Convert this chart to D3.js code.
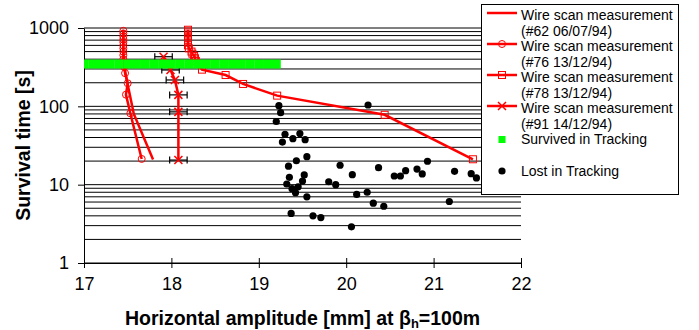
<!DOCTYPE html>
<html>
<head>
<meta charset="utf-8">
<script src="https://cdn.jsdelivr.net/npm/d3@7"></script>
<style>
  body { margin: 0; background: #fff; }
  svg { font-family: "Liberation Sans", Arial, sans-serif; }
</style>
</head>
<body>
<svg id="chart" width="699" height="330"></svg>
<script>
// axis ticks
var xTicks = [17, 18, 19, 20, 21, 22];
var yTicks = [1, 10, 100, 1000];

// wire scan #62 06/07/94 (line only)
var scan62 = [[17.45, 950], [17.45, 700], [17.45, 500], [17.46, 350], [17.47, 280], [17.50, 190], [17.57, 80], [17.79, 21]];
// wire scan #76 13/12/94 (circles)
var scan76 = [[17.45, 920], [17.45, 850], [17.45, 780], [17.45, 720], [17.45, 660], [17.45, 600], [17.45, 550],
  [17.45, 500], [17.45, 450], [17.45, 400], [17.46, 360], [17.46, 320], [17.47, 265], [17.50, 197],
  [17.48, 141], [17.53, 81.5], [17.66, 21.3]];
// wire scan #78 13/12/94 (squares)
var scan78 = [[18.19, 950], [18.19, 900], [18.19, 850], [18.19, 800], [18.19, 750], [18.19, 700], [18.19, 650],
  [18.19, 600], [18.2, 550], [18.23, 500], [18.24, 470], [18.26, 440], [18.27, 410], [18.28, 380],
  [18.35, 294], [18.62, 251], [18.82, 193], [19.21, 137], [20.44, 78], [21.45, 21.1]];
// wire scan #91 14/12/94 (crosses with horizontal error)
var scan91 = [[17.91, 430], [17.99, 291], [18.04, 217], [18.08, 140], [18.08, 85], [18.08, 20.6]];
var scan91Err = [0.1, 0.1, 0.1, 0.1, 0.1, 0.1];

// tracking
var survivedX = [17.0, 17.1, 17.2, 17.3, 17.4, 17.5, 17.6, 17.7, 17.8, 17.9, 18.0, 18.1, 18.2, 18.3,
  18.4, 18.5, 18.6, 18.7, 18.8, 18.9, 19.0, 19.1, 19.2];
var survivedTime = 347;
var lost = [[19.23, 102], [19.25, 83], [19.20, 64], [20.25, 104], [19.30, 44], [19.27, 35], [19.39, 38.6],
  [19.47, 45], [19.53, 37.5], [19.43, 20.2], [19.55, 22.8], [19.34, 17.2], [19.93, 17.7], [20.07, 13.4],
  [20.37, 16.5], [20.93, 19.9], [19.35, 12.4], [19.52, 13.3], [19.50, 11.1], [19.32, 10.2], [19.38, 8.9],
  [19.45, 9.4], [19.42, 7.9], [19.55, 7.0], [19.80, 10.9], [19.88, 10.0], [20.12, 7.5], [20.24, 8.0],
  [20.31, 5.8], [20.43, 5.3], [20.55, 12.9], [20.62, 12.9], [20.68, 15.1], [20.81, 15.8], [20.87, 13.7],
  [21.24, 14.8], [21.43, 13.8], [21.49, 12.2], [21.18, 6.1], [19.37, 4.3], [19.62, 4.0], [19.71, 3.8],
  [20.06, 2.9]];

var legendLabels = [
  ["Wire scan measurement", "(#62 06/07/94)"],
  ["Wire scan measurement", "(#76 13/12/94)"],
  ["Wire scan measurement", "(#78 13/12/94)"],
  ["Wire scan measurement", "(#91 14/12/94)"],
  ["Survived in Tracking"],
  ["Lost in Tracking"]
];

var svg = d3.select("#chart");
var pLeft = 84, pRight = 521, pTop = 28, pBottom = 263;
var red = "#ff0000";

var x = d3.scaleLinear().domain([17, 22]).range([pLeft, pRight]);
var y = d3.scaleLog().domain([1, 1000]).range([pBottom, pTop]);

svg.append("defs").append("clipPath").attr("id", "plotclip")
  .append("rect").attr("x", pLeft).attr("y", pTop - 10).attr("width", pRight - pLeft).attr("height", pBottom - pTop + 10);

// horizontal gridlines (major + minor)
svg.append("g").selectAll("line")
  .data(y.ticks())
  .enter().append("line")
  .attr("x1", pLeft).attr("x2", pRight)
  .attr("y1", d => y(d)).attr("y2", d => y(d))
  .attr("stroke", "#000").attr("stroke-width", 1);

// axes
var yAxis = svg.append("g").attr("transform", "translate(" + pLeft + ",0)")
  .call(d3.axisLeft(y).tickValues(yTicks).tickSize(6).tickSizeOuter(0).tickFormat(d3.format("d")));
yAxis.attr("font-family", null).attr("font-size", 18);
yAxis.selectAll("text").attr("x", -15).attr("fill", "#000");
yAxis.selectAll("line, path").attr("stroke", "#000");

var xAxis = svg.append("g").attr("transform", "translate(0," + pBottom + ")")
  .call(d3.axisBottom(x).tickValues(xTicks).tickSize(5).tickSizeOuter(0).tickFormat(d3.format("d")));
xAxis.attr("font-family", null).attr("font-size", 18);
xAxis.selectAll(".tick line").attr("y1", -5);
xAxis.selectAll("text").attr("y", 14).attr("fill", "#000");
xAxis.selectAll("line, path").attr("stroke", "#000");

// axis titles
var xTitle = svg.append("text")
  .attr("x", (pLeft + pRight) / 2).attr("y", 325)
  .attr("text-anchor", "middle").attr("font-size", 19.5).attr("font-weight", "bold");
xTitle.append("tspan").text("Horizontal amplitude [mm] at \u03b2");
xTitle.append("tspan").attr("font-size", 13).attr("dy", 3).text("h");
xTitle.append("tspan").attr("dy", -3).text("=100m");

svg.append("text")
  .attr("transform", "translate(30," + ((pTop + pBottom) / 2) + ") rotate(-90)")
  .attr("text-anchor", "middle").attr("font-size", 19.5).attr("font-weight", "bold")
  .text("Survival time [s]");

var plot = svg.append("g").attr("clip-path", "url(#plotclip)");
var line = d3.line().x(d => x(d[0])).y(d => y(d[1]));

// #62
plot.append("path").datum(scan62).attr("d", line)
  .attr("fill", "none").attr("stroke", red).attr("stroke-width", 2.5);

// #76
plot.append("path").datum(scan76).attr("d", line)
  .attr("fill", "none").attr("stroke", red).attr("stroke-width", 2.5);
plot.append("g").selectAll("circle").data(scan76).enter().append("circle")
  .attr("cx", d => x(d[0])).attr("cy", d => y(d[1])).attr("r", 3.5)
  .attr("fill", "none").attr("stroke", red).attr("stroke-width", 1);

// #78
plot.append("path").datum(scan78).attr("d", line)
  .attr("fill", "none").attr("stroke", red).attr("stroke-width", 2.5);
plot.append("g").selectAll("rect").data(scan78).enter().append("rect")
  .attr("x", d => x(d[0]) - 3.5).attr("y", d => y(d[1]) - 3.5).attr("width", 7).attr("height", 7)
  .attr("fill", "none").attr("stroke", red).attr("stroke-width", 1);

// #91 error bars then line and crosses
var err = plot.append("g").attr("stroke", "#000").attr("stroke-width", 1.2);
scan91.forEach(function (d, i) {
  var x0 = x(d[0] - scan91Err[i]), x1 = x(d[0] + scan91Err[i]), cy = y(d[1]);
  err.append("line").attr("x1", x0).attr("x2", x1).attr("y1", cy).attr("y2", cy);
  err.append("line").attr("x1", x0).attr("x2", x0).attr("y1", cy - 3.5).attr("y2", cy + 3.5);
  err.append("line").attr("x1", x1).attr("x2", x1).attr("y1", cy - 3.5).attr("y2", cy + 3.5);
});
plot.append("path").datum(scan91).attr("d", line)
  .attr("fill", "none").attr("stroke", red).attr("stroke-width", 2.5);
plot.append("g").selectAll("path").data(scan91).enter().append("path")
  .attr("d", d => {
    var cx = x(d[0]), cy = y(d[1]);
    return "M" + (cx - 4) + "," + (cy - 4) + "L" + (cx + 4) + "," + (cy + 4) +
      "M" + (cx - 4) + "," + (cy + 4) + "L" + (cx + 4) + "," + (cy - 4);
  })
  .attr("stroke", red).attr("stroke-width", 1.5);

// survived in tracking
plot.append("g").selectAll("rect").data(survivedX).enter().append("rect")
  .attr("x", d => x(d) - 4.5).attr("y", y(survivedTime) - 4.5).attr("width", 9).attr("height", 9)
  .attr("fill", "#00ff00");

// lost in tracking
plot.append("g").selectAll("circle").data(lost).enter().append("circle")
  .attr("cx", d => x(d[0])).attr("cy", d => y(d[1])).attr("r", 3.6)
  .attr("fill", "#000");

// legend
var lg = svg.append("g");
lg.append("rect").attr("x", 481.5).attr("y", 4.5).attr("width", 197).attr("height", 190)
  .attr("fill", "#fff").attr("stroke", "#000").attr("stroke-width", 1);
var rowY = [15, 46, 77, 108, 139, 171];
legendLabels.forEach(function (lab, i) {
  var cy = rowY[i];
  lab.forEach(function (t, j) {
    lg.append("text").attr("x", 521).attr("y", cy + j * 15.5 + 5).attr("font-size", 14).text(t);
  });
  if (i < 4) {
    lg.append("line").attr("x1", 487).attr("x2", 517).attr("y1", cy - 2).attr("y2", cy - 2)
      .attr("stroke", red).attr("stroke-width", 2.5);
  }
  var mx = 502, my = cy - 2;
  if (i === 1) lg.append("circle").attr("cx", mx).attr("cy", my).attr("r", 3.5)
    .attr("fill", "none").attr("stroke", red);
  if (i === 2) lg.append("rect").attr("x", mx - 3.5).attr("y", my - 3.5).attr("width", 7).attr("height", 7)
    .attr("fill", "none").attr("stroke", red);
  if (i === 3) lg.append("path")
    .attr("d", "M" + (mx - 4) + "," + (my - 4) + "L" + (mx + 4) + "," + (my + 4) + "M" + (mx - 4) + "," + (my + 4) + "L" + (mx + 4) + "," + (my - 4))
    .attr("stroke", red).attr("stroke-width", 1.5);
  if (i === 4) lg.append("rect").attr("x", mx - 3.5).attr("y", my - 1).attr("width", 7).attr("height", 7)
    .attr("fill", "#00ff00");
  if (i === 5) lg.append("circle").attr("cx", mx).attr("cy", my + 2).attr("r", 3.6).attr("fill", "#000");
});
</script>
</body>
</html>
